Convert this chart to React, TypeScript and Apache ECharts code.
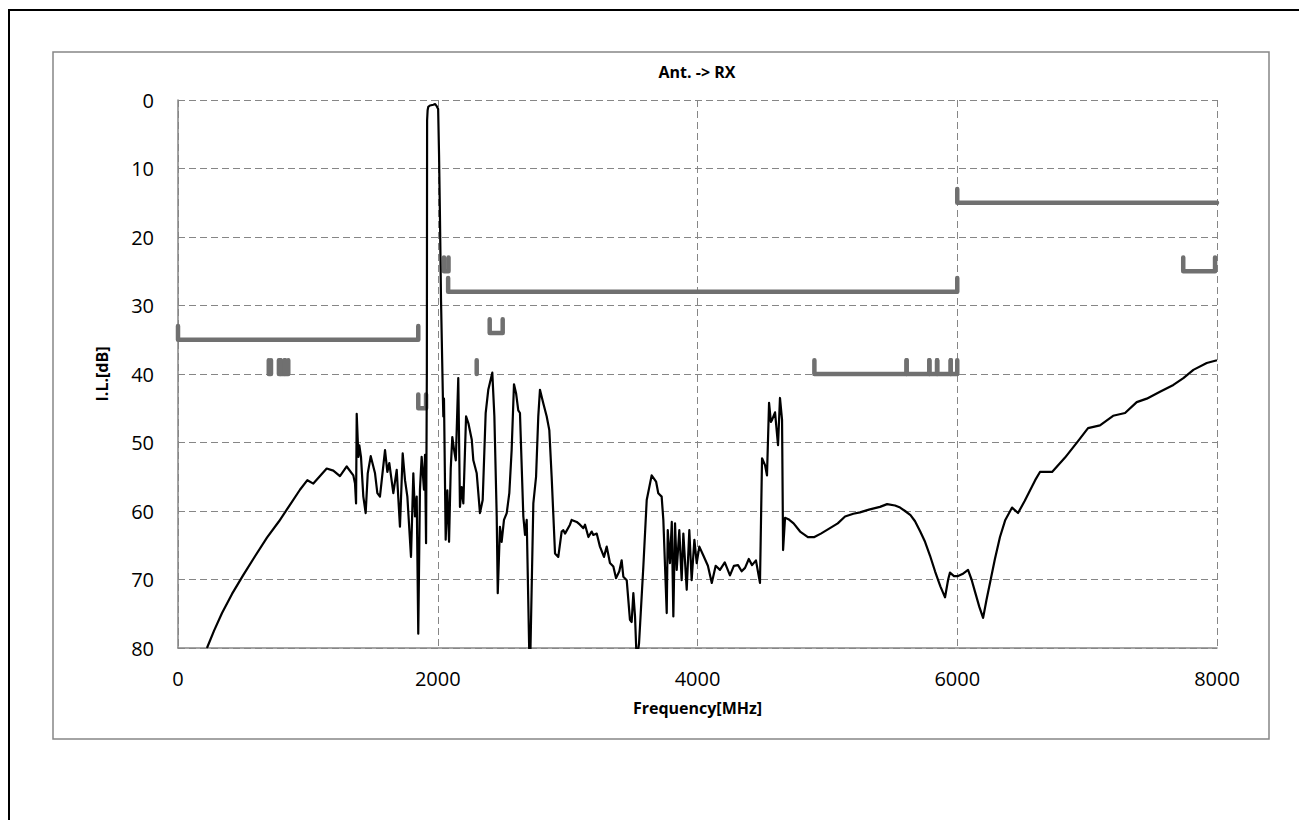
import React, { useEffect, useRef } from "react";
import * as echarts from "echarts";

// Measured insertion loss, Ant. -> RX : [frequency MHz, I.L. dB]
const antRxCurve: [number, number][] = [
  [223, 80], [277, 77.5], [339, 74.9], [416, 72.1], [501, 69.4], [593, 66.6], [685, 63.9], [778, 61.5],
  [862, 59.1], [939, 56.9], [996, 55.5], [1042, 56], [1145, 53.8], [1196, 54.1], [1247, 54.9], [1299, 53.5],
  [1350, 54.8], [1363, 56], [1371, 58.9], [1376, 45.8], [1389, 52.1], [1396, 50.4], [1409, 52.1], [1427, 57.9],
  [1445, 60.3], [1461, 54.5], [1484, 52], [1517, 54.5], [1535, 57.4], [1555, 57.9], [1594, 51.1], [1612, 54.3],
  [1627, 53], [1658, 57.4], [1684, 54], [1709, 62.3], [1730, 51.6], [1748, 55.5], [1766, 57.9], [1794, 66.7],
  [1812, 54.5], [1825, 60.8], [1838, 57.9], [1850, 77.9], [1863, 56.9], [1876, 52.1], [1894, 56.9], [1902, 51.8],
  [1910, 64.7], [1916, 40], [1918, 3], [1922, 1.5], [1927, 1.0], [1940, 0.8], [1966, 0.7], [1980, 0.6],
  [1992, 0.9], [2003, 1.3], [2010, 8], [2017, 17], [2025, 29], [2040, 43.8], [2043, 46.2], [2048, 43.6],
  [2061, 64.2], [2074, 57], [2087, 64.5], [2100, 53.8], [2112, 49.2], [2126, 51.1], [2139, 52.6], [2158, 40.6],
  [2171, 59.4], [2184, 56.5], [2197, 58.9], [2218, 46.2], [2236, 47.2], [2262, 49.6], [2274, 52.6], [2300, 54.5],
  [2325, 60.3], [2346, 58.4], [2369, 45.7], [2389, 42.3], [2420, 39.8], [2436, 46.2], [2454, 60.8], [2462, 72],
  [2479, 62.3], [2492, 64.5], [2510, 61.3], [2531, 60.3], [2551, 57.4], [2569, 51.1], [2587, 41.5], [2603, 42.8],
  [2620, 45.3], [2633, 45.7], [2659, 60.8], [2672, 63.5], [2685, 61.3], [2706, 82], [2712, 82], [2736, 58.9],
  [2757, 55], [2774, 46.2], [2787, 42.3], [2813, 44.3], [2839, 46.2], [2859, 48.2], [2877, 55], [2903, 66.2],
  [2928, 66.7], [2954, 63], [2967, 62.8], [2980, 63.3], [3018, 62], [3031, 61.3], [3070, 61.6], [3095, 62],
  [3121, 62.5], [3134, 62], [3160, 63.8], [3185, 63], [3198, 63.5], [3224, 63.3], [3249, 65.2], [3280, 66.7],
  [3301, 65.2], [3326, 67.6], [3352, 68.1], [3373, 69.8], [3398, 68.8], [3416, 67.2], [3429, 69.6], [3455, 70.1],
  [3480, 75.9], [3493, 76.2], [3506, 72], [3519, 75.4], [3532, 82], [3550, 79.3], [3583, 68.1], [3609, 58.4],
  [3647, 54.8], [3681, 55.7], [3698, 57.4], [3724, 57.9], [3737, 61.3], [3763, 74.9], [3771, 62.8], [3788, 67.6],
  [3802, 61.6], [3814, 75.4], [3827, 61.8], [3840, 68.6], [3860, 62.8], [3878, 70.1], [3891, 63.3], [3917, 71.5],
  [3937, 62.8], [3955, 70.1], [3976, 64.2], [3994, 67.6], [4014, 65.2], [4045, 66.5], [4080, 68], [4110, 70.5],
  [4140, 68], [4173, 68.6], [4210, 67.5], [4250, 69.4], [4280, 68], [4312, 67.9], [4340, 68.8], [4366, 68.3],
  [4395, 67], [4420, 67.9], [4450, 67.2], [4466, 68.9], [4481, 70.5], [4497, 52.3], [4520, 53.3], [4535, 54.8],
  [4551, 44.2], [4565, 47], [4574, 46.7], [4597, 45.6], [4620, 50.4], [4635, 43.5], [4651, 46.7], [4659, 65.7],
  [4674, 61], [4700, 61.2], [4740, 61.8], [4790, 63], [4850, 63.8], [4900, 63.8], [4950, 63.3], [5020, 62.5],
  [5080, 61.8], [5136, 60.8], [5200, 60.4], [5251, 60.2], [5320, 59.8], [5405, 59.4], [5460, 59], [5521, 59.2],
  [5560, 59.5], [5598, 60], [5640, 60.6], [5675, 61.5], [5715, 63], [5752, 64.5], [5790, 66.5], [5829, 68.8],
  [5870, 71], [5906, 72.6], [5930, 70], [5944, 69], [5975, 69.5], [6006, 69.5], [6040, 69.2], [6083, 68.6],
  [6110, 70], [6137, 71.8], [6170, 74], [6199, 75.6], [6225, 73], [6252, 70.5], [6290, 67], [6329, 63.8],
  [6370, 61.3], [6422, 59.5], [6468, 60.3], [6520, 58.5], [6560, 57], [6600, 55.5], [6637, 54.3], [6730, 54.3],
  [6830, 52.2], [6930, 49.8], [7007, 47.9], [7099, 47.5], [7200, 46.1], [7292, 45.7], [7382, 44.1], [7459, 43.6],
  [7561, 42.6], [7664, 41.6], [7741, 40.6], [7818, 39.4], [7921, 38.4], [8000, 38],
];

// Specification mask brackets
const maskFrom = [0, 699, 777, 791, 824, 1850, 2048, 2080, 2300, 2400, 4900, 5610, 5785, 5845, 5950, 6000, 7740];
const maskTo = [1850, 716, 787, 821, 849, 1910, 2083, 6000, 2300, 2500, 5610, 5785, 5845, 5950, 6000, 8000, 7985];
const maskLevel = [35, 40, 40, 40, 40, 45, 25, 28, 40, 34, 40, 40, 40, 40, 40, 15, 25];
const maskTipFrom = [33, 38, 38, 38, 38, 43, 23, 26, 38, 32, 38, 38, 38, 38, 38, 13, 23];
const maskTipTo = [33, 38, 38, 38, 38, 43, 23, 26, 38, 32, 38, 38, 38, 38, 38, 15, 23];

const chartTitle = "Ant. -> RX";
const xName = "Frequency[MHz]";
const yName = "I.L.[dB]";

const FONT = '"Open Sans", "Noto Sans", sans-serif';
const GRID_COLOR = "#868686";
const MASK_COLOR = "#707070";

export default function App() {
  const ref = useRef<HTMLDivElement>(null);
  useEffect(() => {
    if (!ref.current) return;
    const chart = echarts.init(ref.current, undefined, { renderer: "svg" });
    const maskSeries = maskFrom.map((from, i) => ({
      type: "line",
      name: "mask" + i,
      data: [
        [from, maskTipFrom[i]],
        [from, maskLevel[i]],
        [maskTo[i], maskLevel[i]],
        [maskTo[i], maskTipTo[i]],
      ],
      symbol: "none",
      showSymbol: false,
      silent: true,
      clip: true,
      z: 2,
      lineStyle: { color: MASK_COLOR, width: 4.5, cap: "round", join: "round" },
    }));
    chart.setOption({
      animation: false,
      backgroundColor: "#ffffff",
      grid: { left: 178, top: 100, width: 1039, height: 548, containLabel: false, outerBoundsMode: "none" },
      xAxis: {
        type: "value",
        min: 0,
        max: 8000,
        interval: 2000,
        name: xName,
        nameLocation: "middle",
        nameGap: 52,
        nameTextStyle: { fontFamily: FONT, fontSize: 16, fontWeight: "bold", color: "#000" },
        axisLine: { show: true, onZero: false, lineStyle: { color: GRID_COLOR, width: 1.5 } },
        axisTick: { show: false },
        axisLabel: {
          margin: 20,
          fontFamily: FONT,
          fontSize: 20,
          color: "#000",
          formatter: (v: number) => String(v),
        },
        splitLine: { show: true, lineStyle: { color: GRID_COLOR, width: 1, type: [7, 4] } },
      },
      yAxis: {
        type: "value",
        min: 0,
        max: 80,
        interval: 10,
        inverse: true,
        name: yName,
        nameLocation: "middle",
        nameGap: 68,
        nameRotate: 90,
        nameTextStyle: { fontFamily: FONT, fontSize: 16, fontWeight: "bold", color: "#000" },
        axisLine: { show: true, onZero: false, lineStyle: { color: GRID_COLOR, width: 1.5 } },
        axisTick: { show: false },
        axisLabel: {
          margin: 24,
          fontFamily: FONT,
          fontSize: 20,
          color: "#000",
          formatter: (v: number) => String(v),
        },
        splitLine: { show: true, lineStyle: { color: GRID_COLOR, width: 1, type: [7, 4] } },
      },
      graphic: [
        {
          type: "rect",
          silent: true,
          z: -10,
          shape: { x: 9, y: 10, width: 1400, height: 900 },
          style: { fill: "none", stroke: "#000", lineWidth: 2 },
        },
        {
          type: "rect",
          silent: true,
          z: -9,
          shape: { x: 53, y: 52, width: 1216, height: 687 },
          style: { fill: "none", stroke: GRID_COLOR, lineWidth: 1.5 },
        },
        {
          type: "text",
          silent: true,
          x: 697,
          y: 72,
          style: {
            text: chartTitle,
            textAlign: "center",
            textVerticalAlign: "middle",
            fontFamily: FONT,
            fontSize: 16,
            fontWeight: "bold",
            fill: "#000",
          },
        },
      ],
      series: [
        ...maskSeries,
        {
          type: "line",
          name: "Ant. -> RX",
          data: antRxCurve,
          symbol: "none",
          showSymbol: false,
          clip: true,
          z: 3,
          lineStyle: { color: "#000", width: 2.2, join: "round" },
        },
      ],
    });
    return () => chart.dispose();
  }, []);
  return (
    <div
      ref={ref}
      style={{ position: "fixed", left: 0, top: 0, width: 1299, height: 820, background: "#fff" }}
    />
  );
}
